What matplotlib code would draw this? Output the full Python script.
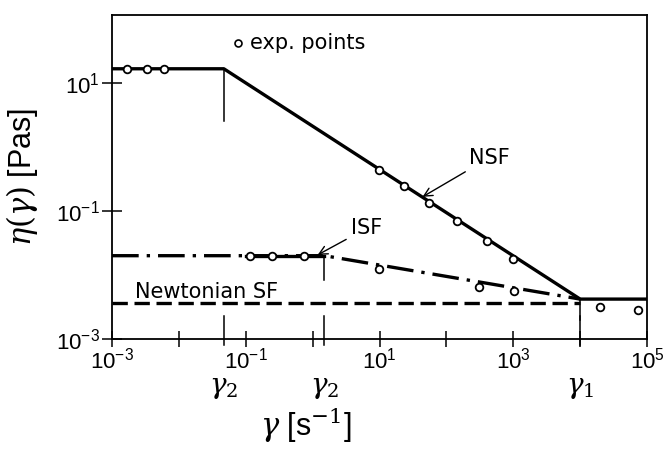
import matplotlib
matplotlib.use("Agg")
import matplotlib.pyplot as plt
import matplotlib.transforms as mtransforms

plt.rcParams["font.family"] = ["Liberation Sans", "DejaVu Sans"]
plt.rcParams["mathtext.fontset"] = "dejavuserif"

# NSF: plateau then power-law down to the Newtonian level
nsf_x = [1e-3, 0.047, 1e4, 1e5]
nsf_y = [16.6, 16.6, 0.0042, 0.0042]

# ISF: plateau then slow decline
isf_x = [1e-3, 1.5, 1e4]
isf_y = [0.020, 0.020, 0.0042]

# Newtonian SF
newt_x = [1e-3, 1e4]
newt_y = [0.0036, 0.0036]

# experimental points
exp_x = [0.0017, 0.0033, 0.006,
         9.7, 23, 54, 145, 400, 1000,
         0.115, 0.25, 0.74,
         9.7, 310, 1020,
         2.0e4, 7.4e4]
exp_y = [16.6, 16.6, 16.6,
         0.44, 0.245, 0.133, 0.069, 0.034, 0.0178,
         0.020, 0.020, 0.020,
         0.0123, 0.0065, 0.0056,
         0.0032, 0.0028]

# characteristic shear rates (vertical markers) and the level they start from
mark_x = [0.047, 1.5, 1e4]
mark_top = [16.6, 0.020, 0.0042]
mark_bot = [2.5, 0.0083, 0.002]
mark_lbl = [r"$\gamma_2$", r"$\gamma_2$", r"$\gamma_1$"]

xtick_vals = [1e-3, 1e-2, 1e-1, 1, 1e1, 1e2, 1e3, 1e4, 1e5]
xtick_lbls = [r"$\mathregular{10^{-3}}$", "", r"$\mathregular{10^{-1}}$", "",
              r"$\mathregular{10^{1}}$", "", r"$\mathregular{10^{3}}$", "",
              r"$\mathregular{10^{5}}$"]
ytick_vals = [1e-3, 1e-1, 1e1]
ytick_lbls = [r"$\mathregular{10^{-3}}$", r"$\mathregular{10^{-1}}$",
              r"$\mathregular{10^{1}}$"]

fig = plt.figure(figsize=(6.68, 4.57), dpi=100)
ax = fig.add_axes([0.1677, 0.2582, 0.8009, 0.7090])
ax.set_xscale("log")
ax.set_yscale("log")
ax.set_xlim(1e-3, 1e5)
ax.set_ylim(1e-3, 10 ** 2.06)

lw = 2.4
ax.plot(nsf_x, nsf_y, color="black", lw=lw, solid_capstyle="butt", zorder=3)
ax.plot(isf_x, isf_y, color="black", lw=lw, ls=(0, (8.0, 2.4, 1.0, 2.4)), zorder=3)
ax.plot([0.1, 1.5], [isf_y[0], isf_y[1]], color="black", lw=lw, zorder=3)
ax.plot(newt_x, newt_y, color="black", lw=lw, ls=(0, (4.6, 2.0)), zorder=3)

ax.plot(exp_x, exp_y, ls="none", marker="o", ms=5.5, mfc="white", mec="black",
        mew=1.3, zorder=5)

trans = mtransforms.blended_transform_factory(ax.transData, ax.transAxes)
for x, top, bot, lbl in zip(mark_x, mark_top, mark_bot, mark_lbl):
    ax.plot([x, x], [top, bot], color="black", lw=1.1, zorder=2)
    ax.plot([x, x], [0.07, -0.02], color="black", lw=1.1, transform=trans,
            clip_on=False, zorder=2)
    ax.text(x, -0.15, lbl, transform=trans, ha="center", va="center", fontsize=20)

ax.set_xticks(xtick_vals)
ax.set_xticklabels(xtick_lbls)
ax.set_yticks(ytick_vals)
ax.set_yticklabels(ytick_lbls)
ax.minorticks_off()
ax.tick_params(axis="x", direction="inout", length=11, width=1.1, labelsize=16, pad=1)
ax.tick_params(axis="y", direction="inout", length=14, width=1.1, labelsize=16, pad=2)
for s in ax.spines.values():
    s.set_linewidth(1.3)

# legend-like note
ax.plot([0.076], [42], ls="none", marker="o", ms=5, mfc="white", mec="black", mew=1.2)
ax.text(0.115, 42, "exp. points", ha="left", va="center", fontsize=15,
        family="DejaVu Sans")

ax.annotate("NSF", xy=(44, 0.166), xytext=(219, 0.68), ha="left", va="center",
            fontsize=15, family="DejaVu Sans",
            arrowprops=dict(arrowstyle="->", lw=1.0, color="black",
                            shrinkA=2, shrinkB=0))
ax.annotate("ISF", xy=(1.19, 0.0206), xytext=(3.8, 0.054), ha="left", va="center",
            fontsize=15, family="DejaVu Sans",
            arrowprops=dict(arrowstyle="->", lw=1.0, color="black",
                            shrinkA=2, shrinkB=0))
ax.text(0.0022, 0.0054, "Newtonian SF", ha="left", va="center", fontsize=15,
        family="DejaVu Sans")

ax.set_ylabel(r"$\eta(\gamma)$ [Pas]", fontsize=22)
ax.yaxis.set_label_coords(-0.135, 0.5)
fig.text(0.457, 0.07, r"$\gamma$ [s$^{-1}$]", ha="center", va="center", fontsize=22)

fig.savefig("out.png", dpi=100)
